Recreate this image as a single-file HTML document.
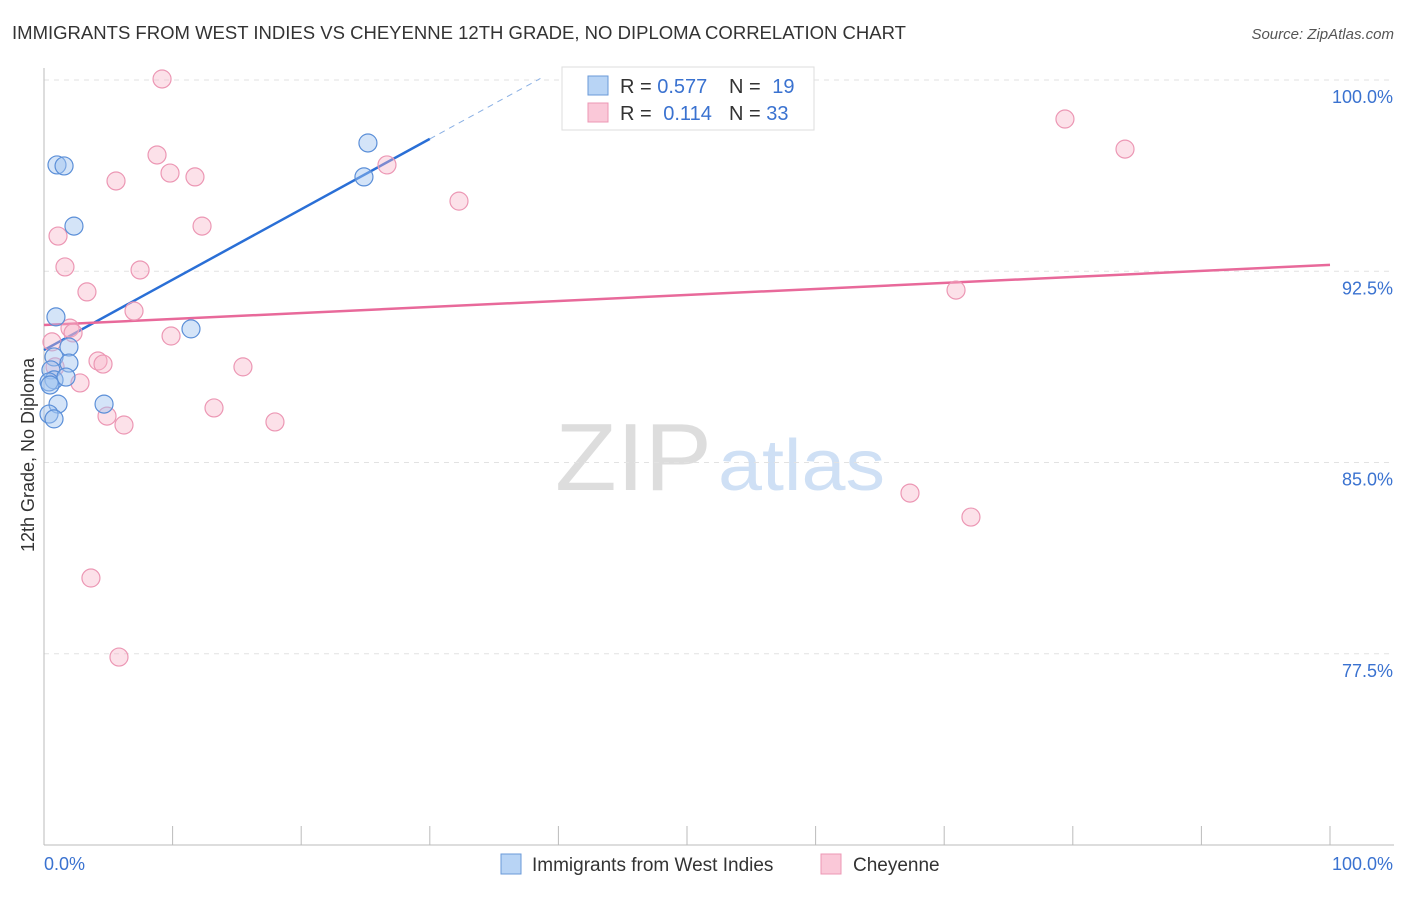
<!DOCTYPE html>
<html><head><meta charset="utf-8"><style>
body{margin:0;background:#fff;font-family:"Liberation Sans",sans-serif;}
svg text{font-family:"Liberation Sans",sans-serif;}
</style></head><body>
<svg id="chart" width="1406" height="892" xmlns="http://www.w3.org/2000/svg">
<text x="12" y="39" font-size="18" fill="#333" textLength="894" lengthAdjust="spacingAndGlyphs">IMMIGRANTS FROM WEST INDIES VS CHEYENNE 12TH GRADE, NO DIPLOMA CORRELATION CHART</text>
<text x="1394" y="39" font-size="15" fill="#555" text-anchor="end" font-style="italic">Source: ZipAtlas.com</text>
<text transform="translate(34,455) rotate(-90)" font-size="18" fill="#333" text-anchor="middle">12th Grade, No Diploma</text>
<g>
<text x="555" y="490" font-size="96" fill="#ddd" font-family="Liberation Serif" textLength="157" lengthAdjust="spacingAndGlyphs">ZIP</text>
<text x="718" y="490" font-size="72" fill="#cfe0f5" textLength="167" lengthAdjust="spacingAndGlyphs">atlas</text>
</g>
<g id="grid"></g>
<g id="ylabels"></g>
<g id="xaxis"></g>
<g id="lines"></g>
<g id="points"></g>
<g>
<rect x="562" y="67" width="252" height="63" fill="#fff" stroke="#ddd"/>
<rect x="588" y="76" width="20" height="19" fill="#b8d4f5" stroke="#6a9ad8"/>
<rect x="588" y="103" width="20" height="19" fill="#fac8d8" stroke="#ec97b4"/>
<text x="620" y="93" font-size="20" fill="#333">R = <tspan fill="#3a72d0">0.577</tspan></text>
<text x="729" y="93" font-size="20" fill="#333">N = <tspan fill="#3a72d0" dx="6">19</tspan></text>
<text x="620" y="120" font-size="20" fill="#333">R = <tspan fill="#3a72d0" dx="6">0.114</tspan></text>
<text x="729" y="120" font-size="20" fill="#333">N = <tspan fill="#3a72d0">33</tspan></text>
</g>
<g>
<rect x="501" y="854" width="20" height="20" fill="#b8d4f5" stroke="#6a9ad8"/>
<text x="532" y="871" font-size="19" fill="#333">Immigrants from West Indies</text>
<rect x="821" y="854" width="20" height="20" fill="#fac8d8" stroke="#ec97b4"/>
<text x="853" y="871" font-size="19" fill="#333">Cheyenne</text>
</g>
</svg>
<script>
const blueX=[1.01,1.56,2.33,0.93,1.94,0.78,1.94,0.54,0.78,0.39,1.71,1.09,4.67,0.39,0.78,11.43,24.88,25.19,0.47];
const blueY=[96.67,96.63,94.27,90.71,89.53,89.14,88.90,88.63,88.24,88.16,88.35,87.29,87.29,86.90,86.71,90.24,96.20,97.53,88.04];
const pinkX=[9.18,8.79,5.60,9.80,11.74,26.67,32.27,12.29,1.09,1.63,7.47,3.34,7.00,2.02,2.26,9.88,4.20,4.59,15.47,2.80,0.86,13.22,4.90,6.22,17.96,3.65,5.83,79.39,84.06,70.92,67.34,72.08,0.62];
const pinkY=[100.04,97.06,96.04,96.35,96.20,96.67,95.25,94.27,93.88,92.67,92.55,91.69,90.94,90.27,90.08,89.96,88.98,88.86,88.75,88.12,88.75,87.14,86.82,86.47,86.59,80.47,77.37,98.47,97.29,91.76,83.80,82.86,89.73];
const yTicks=[100,92.5,85,77.5];
const yTickLabels=["100.0%","92.5%","85.0%","77.5%"];
const xTicks=[0,10,20,30,40,50,60,70,80,90,100];
const blueTrend=[[0,89.41],[30,97.69],[38.6,100.06]];
const pinkTrend=[[0,90.39],[100,92.75]];
const NS="http://www.w3.org/2000/svg";
const X=v=>44+v*12.86;
const Y=v=>80+(100-v)*25.5;
function mk(tag,attrs,parent){const e=document.createElementNS(NS,tag);for(const k in attrs)e.setAttribute(k,attrs[k]);document.getElementById(parent).appendChild(e);return e;}
yTicks.forEach((t,i)=>{
 const g=mk('line',{x1:44,x2:1394,y1:Y(t),y2:Y(t),stroke:'#e2e2e2','stroke-dasharray':'5,5'},'grid');
 
 
 const l=mk('text',{x:1393,y:Y(t)+23,'font-size':18,fill:'#3a72d0','text-anchor':'end'},'ylabels');
 l.textContent=yTickLabels[i];
 
 
});
const ya=mk('line',{x1:44,x2:44,y1:68,y2:845,stroke:'#bbb'},'xaxis');


const xa=mk('line',{x1:44,x2:1394,y1:845,y2:845,stroke:'#bbb'},'xaxis');


xTicks.forEach(t=>{const k=mk('line',{x1:X(t),x2:X(t),y1:826,y2:845,stroke:'#bbb'},'xaxis');
 
 });
const x0=mk('text',{x:44,y:870,'font-size':18,fill:'#3a72d0'},'xaxis');x0.textContent='0.0%';


const x1=mk('text',{x:1393,y:870,'font-size':18,fill:'#3a72d0','text-anchor':'end'},'xaxis');x1.textContent='100.0%';


const bl=mk('line',{x1:X(blueTrend[0][0]),y1:Y(blueTrend[0][1]),x2:X(blueTrend[1][0]),y2:Y(blueTrend[1][1]),stroke:'#2a6fd6','stroke-width':2.5},'lines');


const bd=mk('line',{x1:X(blueTrend[1][0]),y1:Y(blueTrend[1][1]),x2:X(blueTrend[2][0]),y2:Y(blueTrend[2][1]),stroke:'#8ab0e4','stroke-width':1,'stroke-dasharray':'6,5'},'lines');


const pl=mk('line',{x1:X(pinkTrend[0][0]),y1:Y(pinkTrend[0][1]),x2:X(pinkTrend[1][0]),y2:Y(pinkTrend[1][1]),stroke:'#e8699a','stroke-width':2.5},'lines');


pinkX.forEach((v,i)=>{const c=mk('circle',{cx:X(v),cy:Y(pinkY[i]),r:9,fill:'rgba(248,180,200,0.4)',stroke:'#ec97b4','stroke-width':1.2},'points');
 
 });
blueX.forEach((v,i)=>{const c=mk('circle',{cx:X(v),cy:Y(blueY[i]),r:9,fill:'rgba(160,196,240,0.45)',stroke:'#5b8fd8','stroke-width':1.2},'points');
 
 });
</script>
</body></html>
